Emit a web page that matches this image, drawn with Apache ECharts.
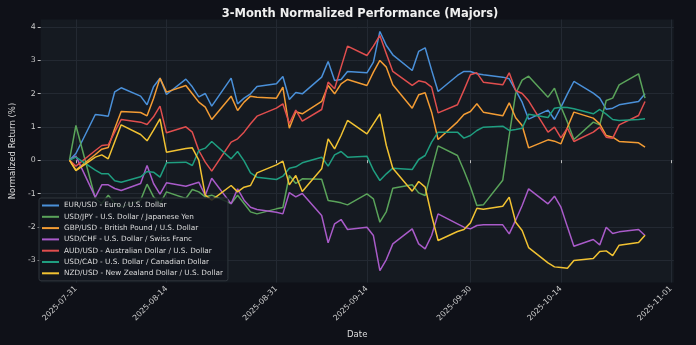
<!DOCTYPE html>
<html><head><meta charset="utf-8">
<script src="https://cdn.jsdelivr.net/npm/echarts@6/dist/echarts.min.js"></script>
<style>html,body{margin:0;padding:0;background:#0f1118;}#c{width:696px;height:345px;}</style>
</head><body><div id="c"></div>
<script>
const dates = ['2025-07-31','2025-08-01','2025-08-04','2025-08-05','2025-08-06','2025-08-07','2025-08-08',
'2025-08-11','2025-08-12','2025-08-13','2025-08-14','2025-08-15','2025-08-18','2025-08-19','2025-08-20','2025-08-21','2025-08-22',
'2025-08-25','2025-08-26','2025-08-27','2025-08-28','2025-08-29','2025-09-01','2025-09-02','2025-09-03','2025-09-04','2025-09-05',
'2025-09-08','2025-09-09','2025-09-10','2025-09-11','2025-09-12','2025-09-15','2025-09-16','2025-09-17','2025-09-18','2025-09-19',
'2025-09-22','2025-09-23','2025-09-24','2025-09-25','2025-09-26','2025-09-29','2025-09-30','2025-10-01','2025-10-02','2025-10-03',
'2025-10-06','2025-10-07','2025-10-08','2025-10-09','2025-10-10','2025-10-13','2025-10-14','2025-10-15','2025-10-16','2025-10-17',
'2025-10-20','2025-10-21','2025-10-22','2025-10-23','2025-10-24','2025-10-27','2025-10-28'];

const tickDates = ['2025-08-01','2025-08-15','2025-09-01','2025-09-15','2025-10-01','2025-10-15','2025-11-01'];
const tickLabels = ['2025-07-31','2025-08-14','2025-08-31','2025-09-14','2025-09-30','2025-10-14','2025-11-01'];
const yTicks = [-3,-2,-1,0,1,2,3,4];

const seriesNames = ['EUR/USD - Euro / U.S. Dollar','USD/JPY - U.S. Dollar / Japanese Yen','GBP/USD - British Pound / U.S. Dollar',
'USD/CHF - U.S. Dollar / Swiss Franc','AUD/USD - Australian Dollar / U.S. Dollar','USD/CAD - U.S. Dollar / Canadian Dollar',
'NZD/USD - New Zealand Dollar / U.S. Dollar'];

const eurusd = [0,0.2,1.37,1.35,1.32,2.05,2.17,1.92,1.66,2.2,2.46,1.97,2.43,2.2,1.9,2.0,1.62,2.46,1.69,1.86,1.99,2.21,2.29,2.51,1.82,2.03,1.99,
2.49,2.96,2.39,2.42,2.66,2.62,2.94,3.86,3.44,3.16,2.69,3.26,3.37,2.7,2.06,2.54,2.66,2.66,2.59,2.56,2.49,2.44,2.09,1.74,1.23,
1.5,1.22,1.59,1.99,2.36,2.01,1.86,1.53,1.56,1.66,1.76,1.99];
const usdjpy = [0,1.04,-1.15,-1.3,-1.05,-1.3,-1.4,-1.2,-0.72,-1.1,-1.3,-0.95,-1.15,-0.88,-0.95,-1.1,-1.05,-1.3,-1.05,-1.3,-1.55,-1.61,-1.46,-1.42,-0.46,-0.7,-0.56,
-0.57,-1.21,-1.24,-1.28,-1.34,-1.01,-1.16,-1.86,-1.54,-0.84,-0.74,-0.98,-1.06,-0.3,0.43,0.14,-0.31,-0.8,-1.36,-1.34,-0.6,0.74,2.0,2.4,2.52,
1.89,2.16,1.6,1.14,0.62,1.14,1.06,1.79,1.86,2.26,2.59,1.86];
const gbpusd = [0,-0.3,0.17,0.33,0.38,0.95,1.46,1.43,1.33,1.85,2.46,2.04,2.24,1.99,1.74,1.59,1.22,1.92,1.49,1.74,1.92,1.89,1.86,2.19,0.96,1.45,1.39,
1.76,2.24,1.99,2.29,2.42,2.24,2.64,2.99,2.79,2.26,1.56,1.96,2.02,1.44,0.62,1.15,1.37,1.46,1.69,1.44,1.33,1.72,1.27,1.04,0.37,
0.61,0.57,0.49,0.98,1.44,1.26,1.09,0.74,0.69,0.56,0.52,0.39];
const usdchf = [0,0.12,-1.11,-0.74,-0.74,-0.85,-0.91,-0.7,-0.16,-0.7,-1.02,-0.68,-0.78,-0.72,-0.66,-1.06,-0.54,-1.31,-0.86,-1.2,-1.41,-1.48,-1.56,-1.61,-0.97,-1.1,-1.0,
-1.66,-2.48,-1.91,-1.78,-2.08,-2.01,-2.26,-3.31,-2.98,-2.51,-2.06,-2.51,-2.66,-2.26,-1.61,-1.91,-2.01,-2.06,-1.96,-1.94,-1.94,-2.21,-1.8,-1.36,-0.86,
-1.31,-1.08,-1.41,-2.0,-2.58,-2.38,-2.54,-2.01,-2.2,-2.15,-2.08,-2.26];
const audusd = [0,-0.18,0.29,0.44,0.46,0.85,1.22,1.14,1.07,1.3,1.62,0.82,1.0,0.84,0.29,-0.06,-0.33,0.54,0.64,0.84,1.09,1.32,1.56,1.69,1.1,1.5,1.17,
1.52,2.34,2.14,2.79,3.42,3.14,3.42,3.74,3.19,2.66,2.24,2.38,2.34,2.19,1.42,1.66,2.1,2.56,2.62,2.34,2.26,2.62,2.09,2.0,1.78,
0.84,0.99,0.67,0.96,0.56,0.84,0.99,0.69,0.66,1.06,1.34,1.76];
const usdcad = [0,0.09,-0.3,-0.41,-0.41,-0.62,-0.66,-0.5,-0.34,-0.36,-0.51,-0.08,-0.06,-0.16,0.29,0.36,0.56,0.04,0.26,-0.02,-0.38,-0.51,-0.58,-0.48,-0.24,-0.2,-0.08,
0.09,-0.18,0.16,0.26,0.09,0.12,-0.3,-0.61,-0.41,-0.24,-0.28,0.02,0.14,0.54,0.84,0.84,0.66,0.74,0.89,0.99,1.02,0.89,0.92,0.96,1.38,
1.28,1.56,1.59,1.58,1.54,1.39,1.52,1.38,1.22,1.19,1.22,1.24];
const nzdusd = [0,-0.31,0.09,0.16,0.04,0.55,1.06,0.77,0.58,0.9,1.24,0.24,0.35,0.37,0.0,-1.05,-1.2,-0.76,-0.95,-0.81,-0.76,-0.38,-0.14,-0.03,-0.74,-0.46,-0.94,
-0.26,0.64,0.34,0.74,1.19,0.79,1.09,1.39,0.44,-0.24,-0.93,-0.64,-0.81,-1.66,-2.41,-2.14,-2.08,-1.88,-1.44,-1.47,-1.38,-1.11,-1.86,-2.11,-2.62,
-3.08,-3.2,-3.22,-3.24,-3.01,-2.95,-2.74,-2.72,-2.86,-2.55,-2.47,-2.25];

const values = [eurusd, usdjpy, gbpusd, usdchf, audusd, usdcad, nzdusd];
const colors = ['#4a90d9','#5aa35a','#f39c34','#a95bc9','#e04e4e','#1f9e80','#f1c232'];

const toMs = s => Date.UTC(+s.slice(0,4), +s.slice(5,7)-1, +s.slice(8,10));
const times = dates.map(toMs);
const tickTimes = tickDates.map(toMs);
const xPad = 0.05*(times[times.length-1]-times[0]);
const all = values.flat();
const vmin = Math.min(...all), vmax = Math.max(...all), yPad = 0.05*(vmax-vmin);

const font = 'DejaVu Sans';
const chart = echarts.init(document.getElementById('c'), null, {renderer:'canvas'});
chart.setOption({
  backgroundColor:'#0f1118',
  animation:false,
  title:{text:'3-Month Normalized Performance (Majors)', left:355, top:3, textAlign:'center',
    textStyle:{color:'#f0f0f0', fontSize:11.5, fontWeight:'bold', fontFamily:font}},
  grid:{left:35.5, right:22.2, top:19.5, bottom:62.5, show:true, backgroundColor:'#151a21', borderWidth:0},
  legend:{orient:'vertical', left:39, top:198, itemWidth:17, itemHeight:2, itemGap:2.3, icon:'rect',
    backgroundColor:'rgba(18,22,29,0.85)', borderColor:'#30363d', borderWidth:1, borderRadius:2, padding:[3,5,3,3],
    textStyle:{color:'#dcdcdc', fontSize:7.3, fontFamily:font, lineHeight:9}, data:seriesNames},
  xAxis:{type:'value', min:times[0]-xPad, max:times[times.length-1]+xPad,
    name:'Date', nameLocation:'middle', nameGap:48, nameTextStyle:{color:'#dcdcdc', fontSize:8.5, fontFamily:font},
    axisLine:{show:false},
    axisTick:{show:true, customValues:tickTimes, length:3, lineStyle:{color:'#bbbbbb'}},
    axisLabel:{customValues:tickTimes, rotate:45, color:'#cccccc', fontSize:7.8, fontFamily:font, margin:5,
      formatter:v=>{const i=tickTimes.indexOf(v); return i>=0?tickLabels[i]:'';}},
    splitLine:{show:true, lineStyle:{color:'#232932', width:1}}},
  yAxis:{type:'value', min:vmin-yPad, max:vmax+yPad,
    name:'Normalized Return (%)', nameLocation:'middle', nameGap:23, nameTextStyle:{color:'#dcdcdc', fontSize:8.5, fontFamily:font},
    axisLine:{show:false},
    axisTick:{show:true, customValues:yTicks, length:3, lineStyle:{color:'#bbbbbb'}},
    axisLabel:{customValues:yTicks, color:'#cccccc', fontSize:7.8, fontFamily:font, margin:5},
    splitLine:{show:true, lineStyle:{color:'#232932', width:1}}},
  series: seriesNames.map((n,k)=>({name:n, type:'line', showSymbol:false, symbol:'none',
    data: times.map((t,i)=>[t, values[k][i]]),
    lineStyle:{color:colors[k], width:1.5}, itemStyle:{color:colors[k]}}))
});
</script></body></html>
